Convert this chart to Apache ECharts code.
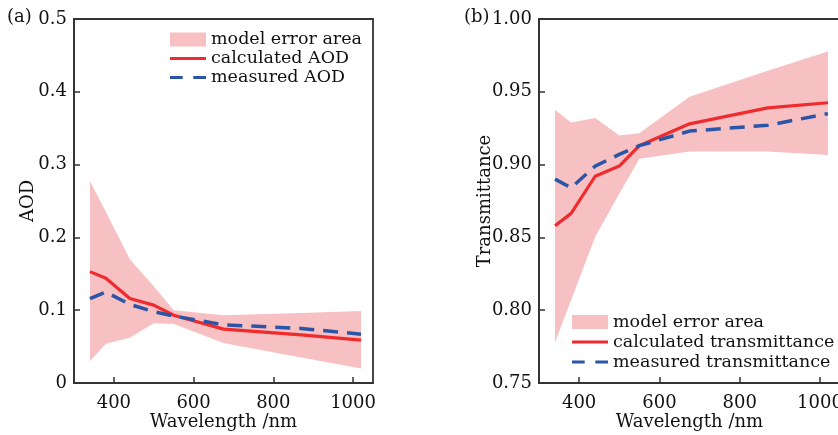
<!DOCTYPE html>
<html>
<head>
<meta charset="utf-8">
<script src="https://cdn.jsdelivr.net/npm/echarts@6/dist/echarts.min.js"></script>
<style>
  html, body { margin: 0; padding: 0; background: #fff; }
  #chart { width: 838px; height: 435px; }
</style>
</head>
<body>
<div id="chart"></div>
<script>
// Sampling wavelengths (nm)
const wavelengths = [340, 380, 440, 500, 550, 675, 870, 1020];

// Panel (a): aerosol optical depth
const aodCalc  = [0.153, 0.144, 0.116, 0.107, 0.093, 0.074, 0.066, 0.059];
const aodMeas  = [0.116, 0.125, 0.108, 0.098, 0.092, 0.080, 0.075, 0.067];
const aodUpper = [0.277, 0.235, 0.170, 0.133, 0.100, 0.093, 0.096, 0.099];
const aodLower = [0.030, 0.054, 0.062, 0.082, 0.081, 0.055, 0.035, 0.020];

// Panel (b): transmittance
const trCalc  = [0.858, 0.8665, 0.892, 0.899, 0.913, 0.928, 0.939, 0.9425];
const trMeas  = [0.890, 0.884, 0.899, 0.907, 0.913, 0.923, 0.927, 0.935];
const trUpper = [0.9375, 0.929, 0.932, 0.920, 0.9215, 0.9466, 0.9645, 0.9776];
const trLower = [0.778, 0.807, 0.8505, 0.880, 0.904, 0.909, 0.909, 0.9066];

// Tick positions
const xTicks = [400, 600, 800, 1000];
const aodTicks = [0, 0.1, 0.2, 0.3, 0.4, 0.5];
const trTicks = [0.75, 0.80, 0.85, 0.90, 0.95, 1.00];

const FONT = 'DejaVu Serif';
const AXIS = '#333';
const RED = '#ef2b2d';
const BLUE = '#2b55a6';
const BAND = '#f7c0c2';
const TEXT = '#111';

const txt = { fontFamily: FONT, fontSize: 18, color: TEXT };

const pairs = (ys) => wavelengths.map((w, i) => [w, ys[i]]);

function xAxisFor(gi) {
  return {
    type: 'value', gridIndex: gi, min: 300, max: 1050,
    name: 'Wavelength /nm', nameLocation: 'middle', nameGap: 30, nameMoveOverlap: false,
    nameTextStyle: txt,
    axisLine: { show: true, lineStyle: { color: AXIS, width: 1.8 } },
    axisTick: { show: true, inside: true, length: 6, customValues: xTicks,
                lineStyle: { color: AXIS, width: 1.5 } },
    axisLabel: { customValues: xTicks, margin: 11, ...txt, formatter: (v) => String(v) },
    splitLine: { show: false }
  };
}

function yAxisFor(gi, ticks, name, gap, digits) {
  return {
    type: 'value', gridIndex: gi,
    min: ticks[0], max: ticks[ticks.length - 1],
    name: name, nameLocation: 'middle', nameGap: gap, nameMoveOverlap: false,
    nameTextStyle: txt,
    axisLine: { show: true, lineStyle: { color: AXIS, width: 1.8 } },
    axisTick: { show: true, inside: true, length: 6, customValues: ticks,
                lineStyle: { color: AXIS, width: 1.5 } },
    axisLabel: {
      customValues: ticks, margin: 7, ...txt,
      formatter: (v) => (v === 0 ? '0' : v.toFixed(digits))
    },
    splitLine: { show: false }
  };
}

// Filled error band drawn as one polygon through the axis scales
function bandSeries(gi, upper, lower) {
  return {
    type: 'custom', name: 'model error area',
    xAxisIndex: gi, yAxisIndex: gi, z: 1, clip: true,
    data: [[wavelengths[0], upper[0]]],
    renderItem: (params, api) => {
      const pts = [];
      for (let i = 0; i < wavelengths.length; i++) pts.push(api.coord([wavelengths[i], upper[i]]));
      for (let i = wavelengths.length - 1; i >= 0; i--) pts.push(api.coord([wavelengths[i], lower[i]]));
      return { type: 'polygon', shape: { points: pts }, style: { fill: BAND } };
    }
  };
}

function lineSeries(gi, name, ys, color, dashed) {
  return {
    type: 'line', name: name, xAxisIndex: gi, yAxisIndex: gi, z: 3,
    data: pairs(ys), symbol: 'none', smooth: false,
    lineStyle: { color: color, width: dashed ? 3.5 : 3.2, type: dashed ? [15, 9] : 'solid' },
    itemStyle: { color: color },
    emphasis: { disabled: true }
  };
}

const LINE_ICON = 'path://M0,0H36V3H0Z';
const DASH_ICON = 'path://M0,0H12V3H0Z M22,0H34V3H22Z';

function legendFor(left, top, rowH, names) {
  return {
    left: left, top: top, orient: 'vertical', align: 'left',
    itemWidth: 36, itemHeight: 14, itemGap: 0, padding: 0,
    symbolKeepAspect: true, selectedMode: false,
    textStyle: { ...txt, fontSize: 17.5, lineHeight: rowH },
    data: [
      { name: names[0], icon: 'rect', itemStyle: { color: BAND, borderWidth: 0 } },
      { name: names[1], icon: LINE_ICON, itemStyle: { color: RED, borderWidth: 0 } },
      { name: names[2], icon: DASH_ICON, itemStyle: { color: BLUE, borderWidth: 0 } }
    ]
  };
}

const chart = echarts.init(document.getElementById('chart'), null, { renderer: 'canvas' });

chart.setOption({
  animation: false,
  backgroundColor: '#fff',
  title: [
    { text: '(a)', left: 7, top: 8, padding: 0,
      textStyle: { fontFamily: FONT, fontSize: 18, fontWeight: 'normal', color: TEXT } },
    { text: '(b)', left: 464, top: 8, padding: 0,
      textStyle: { fontFamily: FONT, fontSize: 18, fontWeight: 'normal', color: TEXT } }
  ],
  grid: [
    { left: 74, top: 19, width: 299, height: 364, outerBoundsMode: 'none',
      show: true, borderColor: AXIS, borderWidth: 1.8 },
    { left: 539, top: 19, width: 301, height: 364, outerBoundsMode: 'none',
      show: true, borderColor: AXIS, borderWidth: 1.8 }
  ],
  xAxis: [xAxisFor(0), xAxisFor(1)],
  yAxis: [
    yAxisFor(0, aodTicks, 'AOD', 37, 1),
    yAxisFor(1, trTicks, 'Transmittance', 45, 2)
  ],
  legend: [
    legendFor(170, 30, 19, ['model error area', 'calculated AOD', 'measured AOD']),
    legendFor(572, 312, 20, ['model error area', 'calculated transmittance', 'measured transmittance'])
  ],
  series: [
    bandSeries(0, aodUpper, aodLower),
    lineSeries(0, 'calculated AOD', aodCalc, RED, false),
    lineSeries(0, 'measured AOD', aodMeas, BLUE, true),
    bandSeries(1, trUpper, trLower),
    lineSeries(1, 'calculated transmittance', trCalc, RED, false),
    lineSeries(1, 'measured transmittance', trMeas, BLUE, true)
  ]
});
</script>
</body>
</html>
